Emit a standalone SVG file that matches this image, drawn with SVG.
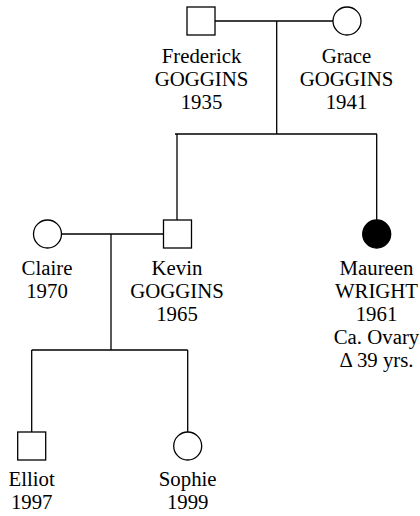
<svg xmlns="http://www.w3.org/2000/svg" width="420" height="516" viewBox="0 0 420 516">
<style>
.s{fill:#fff;stroke:#000;stroke-width:1.3}
.a{fill:#000;stroke:#000;stroke-width:1.3}
.l{fill:none;stroke:#000;stroke-width:1.3}
.t text{font-family:'Liberation Serif','Times New Roman','DejaVu Serif',serif;font-size:20.8px;fill:#000;text-anchor:middle}
</style>
<rect width="420" height="516" fill="#fff"/>
<g id="connectors">
<path class="l" d="M215,21H333M276.7,21V134M175,134H377M177,134V220M376.7,134V220M62,234H163M111,234V350M31.7,350H187.7M31.7,350V432M187.7,350V432"/>
</g>
<g class="t" font-family="Liberation Serif, serif">
<g id="frederick"><rect class="s" x="187" y="7" width="28" height="28"/><text x="201.5" y="63">Frederick</text><text x="201.5" y="86">GOGGINS</text><text x="201.5" y="109">1935</text></g>
<g id="grace"><circle class="s" cx="347" cy="21" r="14"/><text x="346.5" y="63">Grace</text><text x="346.5" y="86">GOGGINS</text><text x="346.5" y="109">1941</text></g>
<g id="claire"><circle class="s" cx="47.5" cy="234" r="14"/><text x="47" y="275">Claire</text><text x="47" y="298">1970</text></g>
<g id="kevin"><rect class="s" x="163.5" y="220" width="28" height="28"/><text x="177" y="275">Kevin</text><text x="177" y="298">GOGGINS</text><text x="177" y="321">1965</text></g>
<g id="maureen"><circle class="a" cx="376.7" cy="234" r="14"/><text x="376.5" y="275">Maureen</text><text x="376.5" y="298">WRIGHT</text><text x="376.5" y="321">1961</text><text x="376.5" y="344">Ca. Ovary</text><text x="376.5" y="367">Δ 39 yrs.</text></g>
<g id="elliot"><rect class="s" x="17.7" y="432" width="28" height="28"/><text x="31.7" y="486">Elliot</text><text x="31.7" y="509">1997</text></g>
<g id="sophie"><circle class="s" cx="187.7" cy="446" r="14"/><text x="187.7" y="486">Sophie</text><text x="187.7" y="509">1999</text></g>
</g>
</svg>
